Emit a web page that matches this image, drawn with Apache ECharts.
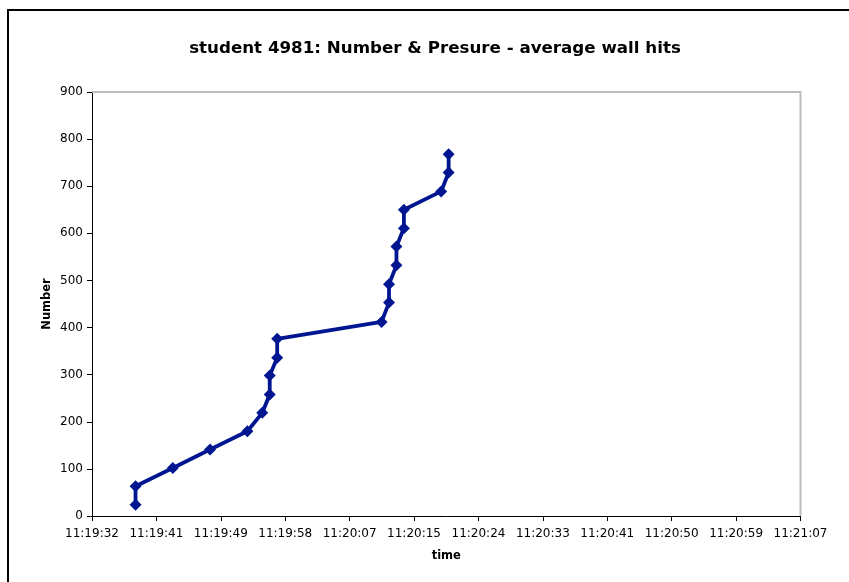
<!DOCTYPE html>
<html>
<head>
<meta charset="utf-8">
<script src="https://cdn.jsdelivr.net/npm/echarts@6/dist/echarts.min.js"></script>
<style>
  html, body { margin: 0; padding: 0; background: #fff; }
  #chart { width: 849px; height: 582px; }
</style>
</head>
<body>
<div id="chart"></div>
<script>
// Sample times (clock time of each reading) and counts
const times = [
  '11:19:38', '11:19:38', '11:19:43', '11:19:48', '11:19:53',
  '11:19:55', '11:19:56', '11:19:56', '11:19:57', '11:19:57',
  '11:20:11', '11:20:12', '11:20:12', '11:20:13', '11:20:13',
  '11:20:14', '11:20:14', '11:20:19', '11:20:20', '11:20:20'
];
const numbers = [
  24, 63, 102, 141, 180,
  219, 258, 298, 336, 376,
  412, 453, 492, 532, 572,
  611, 650, 689, 729, 768
];
// Time axis: 0.0001-day steps (8.64 s), from 11:19:32 to 11:21:07
const xMinSec = 40772.16;
const xMaxSec = 40867.2;
const xStepSec = 8.64;
const yTicks = [0, 100, 200, 300, 400, 500, 600, 700, 800, 900];

function toSec(t) {
  const p = t.split(':').map(Number);
  return p[0] * 3600 + p[1] * 60 + p[2];
}
function fmt(sec) {
  const s = Math.round(sec);
  const h = Math.floor(s / 3600);
  const m = Math.floor((s % 3600) / 60);
  const ss = s % 60;
  const pad = n => (n < 10 ? '0' : '') + n;
  return h + ':' + pad(m) + ':' + pad(ss);
}

const points = times.map((t, i) => [toSec(t), numbers[i]]);
const font = 'Verdana, "DejaVu Sans", sans-serif';

const chart = echarts.init(document.getElementById('chart'), null, { renderer: 'canvas' });
chart.setOption({
  animation: false,
  backgroundColor: '#ffffff',
  title: {
    text: 'student 4981: Number & Presure - average wall hits',
    left: 430,
    top: 35,
    textAlign: 'center',
    textStyle: { fontFamily: font, fontSize: 16.7, fontWeight: 'bold', color: '#000' }
  },
  graphic: [{
    type: 'rect',
    shape: { x: 8, y: 10, width: 845, height: 600 },
    style: { fill: 'none', stroke: '#000', lineWidth: 2 },
    silent: true,
    z: 0
  }, {
    type: 'polyline',
    shape: { points: [[92, 92], [800.5, 92], [800.5, 516]] },
    style: { stroke: '#bdbdbd', lineWidth: 2, fill: 'none' },
    silent: true,
    z: 1
  }],
  grid: { left: 92, top: 92, right: 48.5, bottom: 66, containLabel: false },
  xAxis: {
    type: 'value',
    min: xMinSec,
    max: xMaxSec,
    interval: xStepSec,
    name: 'time',
    nameLocation: 'middle',
    nameGap: 34,
    nameMoveOverlap: false,
    nameTextStyle: { fontFamily: font, fontSize: 11.5, fontWeight: 'bold', color: '#000' },
    axisLine: { show: true, lineStyle: { color: '#000', width: 1 } },
    axisTick: { show: true, length: 5, lineStyle: { color: '#000' } },
    axisLabel: {
      fontFamily: font, fontSize: 12, color: '#000', margin: 12,
      formatter: v => fmt(v)
    },
    splitLine: { show: false }
  },
  yAxis: {
    type: 'value',
    min: yTicks[0],
    max: yTicks[yTicks.length - 1],
    interval: 100,
    name: 'Number',
    nameLocation: 'middle',
    nameGap: 39,
    nameRotate: 90,
    nameMoveOverlap: false,
    nameTextStyle: { fontFamily: font, fontSize: 11.5, fontWeight: 'bold', color: '#000' },
    axisLine: { show: true, lineStyle: { color: '#000', width: 1 } },
    axisTick: { show: true, length: 5, lineStyle: { color: '#000' } },
    axisLabel: { fontFamily: font, fontSize: 12, color: '#000', margin: 9 },
    splitLine: { show: false }
  },
  series: [{
    type: 'line',
    data: points,
    symbol: 'diamond',
    symbolSize: 12,
    lineStyle: { color: '#001690', width: 3.8 },
    itemStyle: { color: '#001690' },
    z: 3
  }]
});
</script>
</body>
</html>
